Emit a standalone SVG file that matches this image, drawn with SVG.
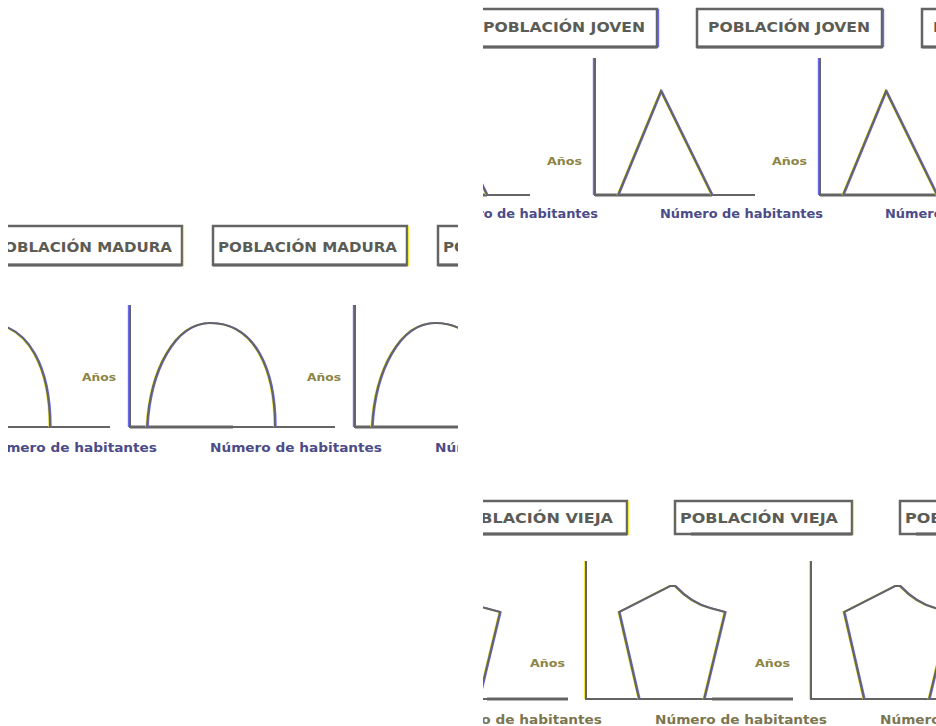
<svg xmlns="http://www.w3.org/2000/svg" xmlns:xlink="http://www.w3.org/1999/xlink" width="936" height="726" viewBox="0 0 936 726">
<style>
.ln{fill:none;stroke:#646464;stroke-width:2}
.th{fill:none;stroke:#646464;stroke-width:3}
.box{fill:#ffffff;stroke:#646464;stroke-width:2.5}
.fy{fill:none;stroke:#f2ea3a;stroke-width:1.2}
.fb{fill:none;stroke:#6a6af0;stroke-width:1.4}
.ttl{font-family:"DejaVu Sans",sans-serif;font-weight:bold;font-size:14px;fill:#5c5c56}
.yr{font-family:"DejaVu Sans",sans-serif;font-weight:bold;font-size:10.5px;fill:#8c8444}
.lbl{font-family:"DejaVu Sans",sans-serif;font-weight:bold;font-size:12px;fill:#4c4c88}
.lbl2{font-family:"DejaVu Sans",sans-serif;font-weight:bold;font-size:12px;fill:#7c7650}
</style>
<defs>
<clipPath id="cTop"><rect x="483" y="0" width="453" height="228"/></clipPath>
<clipPath id="cMid"><rect x="8" y="215" width="450" height="245"/></clipPath>
<clipPath id="cBot"><rect x="483" y="495" width="453" height="231"/></clipPath>
<path id="triShape" d="M23,195 L66,91 L117,195"/>
<path id="archShape" d="M17,427 C20,370 45,323 80,323 C125,323 145,370 145,427"/>
<path id="pentShape" d="M53,699 L33,612 L84,586 L89,586 Q105,603 124,608 L139,612 L118,699"/>
<g id="tileTop">
  <rect class="box" x="102" y="9" width="185" height="38"/>
  <line class="th" x1="102" y1="47" x2="287" y2="47"/>
  <line class="fb" x1="288.5" y1="9" x2="288.5" y2="47"/>
  <text class="ttl" x="113" y="32" textLength="162" lengthAdjust="spacingAndGlyphs">POBLACIÓN JOVEN</text>
  <text class="yr" x="-48" y="165" textLength="35" lengthAdjust="spacingAndGlyphs">Años</text>
  <line class="fb" x1="-1.5" y1="58" x2="-1.5" y2="195"/>
  <line class="ln" x1="0" y1="58" x2="0" y2="196"/>
  <line class="th" x1="0" y1="195" x2="117" y2="195"/>
  <line class="ln" x1="117" y1="195" x2="160" y2="195"/>
  <use xlink:href="#triShape" class="fy" transform="translate(-1,0)"/>
  <use xlink:href="#triShape" class="fb" transform="translate(1,0)"/>
  <use xlink:href="#triShape" class="ln"/>
  <text class="lbl" x="65" y="218" textLength="163" lengthAdjust="spacingAndGlyphs">Número de habitantes</text>
</g>
<g id="tileMid">
  <rect class="box" x="83" y="226" width="194" height="39"/>
  <line class="th" x1="83" y1="265" x2="277" y2="265"/>
  <line class="fy" x1="278.5" y1="226" x2="278.5" y2="266"/>
  <text class="ttl" x="88" y="252" textLength="179" lengthAdjust="spacingAndGlyphs">POBLACIÓN MADURA</text>
  <text class="yr" x="-48" y="381" textLength="34" lengthAdjust="spacingAndGlyphs">Años</text>
  <line class="fb" x1="-1.5" y1="305" x2="-1.5" y2="427"/>
  <line class="ln" x1="0" y1="305" x2="0" y2="428"/>
  <line class="th" x1="0" y1="427" x2="103" y2="427"/>
  <line class="ln" x1="103" y1="427" x2="205" y2="427"/>
  <use xlink:href="#archShape" class="fy" transform="translate(-1,0)"/>
  <use xlink:href="#archShape" class="fb" transform="translate(1,0)"/>
  <use xlink:href="#archShape" class="ln"/>
  <text class="lbl" x="80" y="452" textLength="172" lengthAdjust="spacingAndGlyphs">Número de habitantes</text>
</g>
<g id="tileBot">
  <rect class="box" x="89" y="501" width="177" height="33"/>
  <line class="th" x1="105" y1="534" x2="266" y2="534"/>
  <line class="fy" x1="267.5" y1="501" x2="267.5" y2="535"/>
  <text class="ttl" x="94" y="523" textLength="158" lengthAdjust="spacingAndGlyphs">POBLACIÓN VIEJA</text>
  <text class="yr" x="-56" y="667" textLength="35" lengthAdjust="spacingAndGlyphs">Años</text>
  <line class="fy" x1="-1.5" y1="561" x2="-1.5" y2="699"/>
  <line class="ln" x1="0" y1="561" x2="0" y2="700"/>
  <line class="ln" x1="0" y1="699" x2="126" y2="699"/>
  <line class="th" x1="126" y1="699" x2="207" y2="699"/>
  <use xlink:href="#pentShape" class="fy" transform="translate(-1,0)"/>
  <use xlink:href="#pentShape" class="fb" transform="translate(1,0)"/>
  <use xlink:href="#pentShape" class="ln"/>
  <text class="lbl2" x="69" y="724" textLength="172" lengthAdjust="spacingAndGlyphs">Número de habitantes</text>
</g>
</defs>
<rect x="0" y="0" width="936" height="726" fill="#ffffff"/>
<g id="strip-joven" clip-path="url(#cTop)">
  <use xlink:href="#tileTop" transform="translate(370,0)"/>
  <use xlink:href="#tileTop" transform="translate(595,0)"/>
  <use xlink:href="#tileTop" transform="translate(820,0)"/>
</g>
<g id="strip-madura" clip-path="url(#cMid)">
  <use xlink:href="#tileMid" transform="translate(-95,0)"/>
  <use xlink:href="#tileMid" transform="translate(130,0)"/>
  <use xlink:href="#tileMid" transform="translate(355,0)"/>
</g>
<g id="strip-vieja" clip-path="url(#cBot)">
  <use xlink:href="#tileBot" transform="translate(361,0)"/>
  <use xlink:href="#tileBot" transform="translate(586,0)"/>
  <use xlink:href="#tileBot" transform="translate(811,0)"/>
</g>
</svg>
